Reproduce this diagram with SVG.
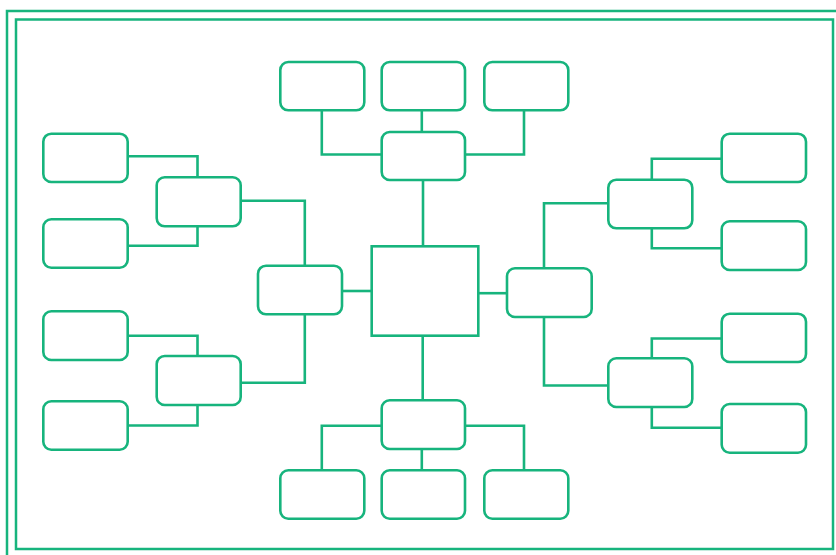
<svg xmlns="http://www.w3.org/2000/svg" width="836" height="555" viewBox="0 0 836 555">
<style>
.b{fill:#fff;stroke:#17b47d;stroke-width:2.6}
.n{fill:#fff;stroke:#17b47d;stroke-width:2.6}
.c{fill:none;stroke:#17b47d;stroke-width:2.6}
.f{fill:none;stroke:#17b47d;stroke-width:2.5}
</style>
<rect x="0" y="0" width="836" height="555" fill="#fff"/>
<g id="frame">
<rect class="f" x="7" y="11" width="850" height="560"/>
<rect class="f" x="16" y="19.5" width="817" height="529.5"/>
</g>
<g id="connectors">
<path class="c" d="M343 291H372"/>
<path class="c" d="M478 293.2H507"/>
<path class="c" d="M423 180V246.3"/>
<path class="c" d="M422.7 335.7V400.3"/>
<path class="c" d="M321.8 110.3V154.5H381.7"/>
<path class="c" d="M421.8 110.3V132"/>
<path class="c" d="M524 110.3V154.5H465"/>
<path class="c" d="M321.8 470.3V425.8H381.7"/>
<path class="c" d="M421.8 449V470.3"/>
<path class="c" d="M524 470.3V425.8H465"/>
<path class="c" d="M127.7 156.2H197.5V177.3"/>
<path class="c" d="M197.5 226.3V245.8H127.7"/>
<path class="c" d="M240.7 200.8H304.8V265.7"/>
<path class="c" d="M127.7 335.8H197.5V356"/>
<path class="c" d="M197.5 405V425.5H127.7"/>
<path class="c" d="M240.7 382.8H304.8V314.3"/>
<path class="c" d="M721.7 158.8H651.8V179.7"/>
<path class="c" d="M651.8 228.3V248.2H721.7"/>
<path class="c" d="M608.3 203.2H544V268.3"/>
<path class="c" d="M721.7 338.5H651.8V358.3"/>
<path class="c" d="M651.8 407V427.8H721.7"/>
<path class="c" d="M608.3 385.5H544V317"/>
</g>
<g id="center"><rect class="b" x="371.7" y="246.3" width="106.6" height="89.4"/></g>
<g id="left-mid"><rect class="n" x="258" y="265.7" width="84" height="48.6" rx="8"/></g>
<g id="right-mid"><rect class="n" x="507" y="268.3" width="84.7" height="48.7" rx="8"/></g>
<g id="top-hub"><rect class="n" x="381.7" y="132" width="83.3" height="48" rx="8"/></g>
<g id="top-1"><rect class="n" x="280.3" y="62" width="84" height="48.3" rx="8"/></g>
<g id="top-2"><rect class="n" x="381.7" y="62" width="83.3" height="48.3" rx="8"/></g>
<g id="top-3"><rect class="n" x="484.3" y="62" width="84" height="48.3" rx="8"/></g>
<g id="bottom-hub"><rect class="n" x="381.7" y="400.3" width="83.3" height="48.7" rx="8"/></g>
<g id="bottom-1"><rect class="n" x="280.3" y="470.3" width="84" height="48.4" rx="8"/></g>
<g id="bottom-2"><rect class="n" x="381.7" y="470.3" width="83.3" height="48.4" rx="8"/></g>
<g id="bottom-3"><rect class="n" x="484.3" y="470.3" width="84" height="48.4" rx="8"/></g>
<g id="left-hub-1"><rect class="n" x="156.7" y="177.3" width="84" height="49" rx="8"/></g>
<g id="left-a"><rect class="n" x="43.3" y="133.7" width="84.4" height="48.3" rx="8"/></g>
<g id="left-b"><rect class="n" x="43.3" y="219.3" width="84.4" height="48.4" rx="8"/></g>
<g id="left-hub-2"><rect class="n" x="156.7" y="356" width="84" height="49" rx="8"/></g>
<g id="left-c"><rect class="n" x="43.3" y="311.3" width="84.4" height="48.7" rx="8"/></g>
<g id="left-d"><rect class="n" x="43.3" y="401.3" width="84.4" height="48.4" rx="8"/></g>
<g id="right-hub-1"><rect class="n" x="608.3" y="179.7" width="84" height="48.6" rx="8"/></g>
<g id="right-e"><rect class="n" x="721.7" y="133.7" width="84.3" height="48.3" rx="8"/></g>
<g id="right-f"><rect class="n" x="721.7" y="221.3" width="84.3" height="48.7" rx="8"/></g>
<g id="right-hub-2"><rect class="n" x="608.3" y="358.3" width="84" height="48.7" rx="8"/></g>
<g id="right-g"><rect class="n" x="721.7" y="313.7" width="84.3" height="48.3" rx="8"/></g>
<g id="right-h"><rect class="n" x="721.7" y="404" width="84.3" height="48.7" rx="8"/></g>
</svg>
